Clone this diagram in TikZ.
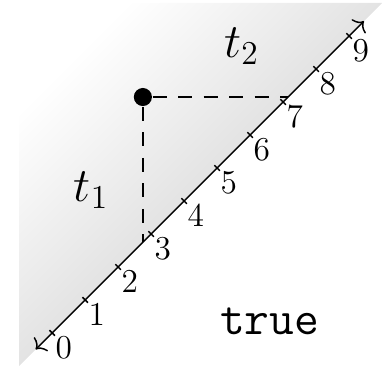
\documentclass[tikz,border=0pt]{standalone}
\usepackage{amsmath,amssymb}
\usepackage{xcolor}
\usepackage{tikz}
\usetikzlibrary{positioning,arrows.meta}

\begin{document}
\begin{tikzpicture}[x=0.5cm,y=0.5cm,line width=0.65pt,
                    >={To[length=3.5pt,width=8.5pt]},
                    tickpt/.style={inner sep=0pt,minimum size=0pt},
                    num/.style={below right,inner sep=1.2pt,font=\Large},
                    dot/.style={circle,fill,inner sep=0pt,minimum size=7.8pt},
                    guide/.style={dash pattern=on 6pt off 5pt}]
    \useasboundingbox (-1.58,-1.03) rectangle (10.30,10.09);
    \shade[top color=white,bottom color=black!22,middle color=black!11,shading angle=45]
        (-1,-1) -- (10,10) -- (-1,10) -- cycle;

    \coordinate (S) at (-0.5,-0.5);
    \coordinate (E) at (9.45,9.45);
    \draw[<->] (S) -- (E);
    \foreach \i in {0,...,9} {
        \node[tickpt] (T\i) at (\i,\i) {};
        \draw (T\i) ++(-1.2pt,1.2pt) -- ++(2.4pt,-2.4pt);
        \node[num] (L\i) at (T\i) {$\i$};
    }

    \node[dot] (P) at (2.75,7.15) {};
    \coordinate (A) at (2.75,2.75);
    \coordinate (B) at (7.15,7.15);
    \draw[guide] (P) -- (A);
    \draw[guide] (P) -- (B);

    \node[font=\huge] (t1) at (1.18,4.33) {$t_1$};
    \node[font=\huge] (t2) at (5.74,8.7) {$t_2$};
    \node[font=\huge] (tr) at (6.59,0.36) {\texttt{true}};
\end{tikzpicture}
\end{document}
